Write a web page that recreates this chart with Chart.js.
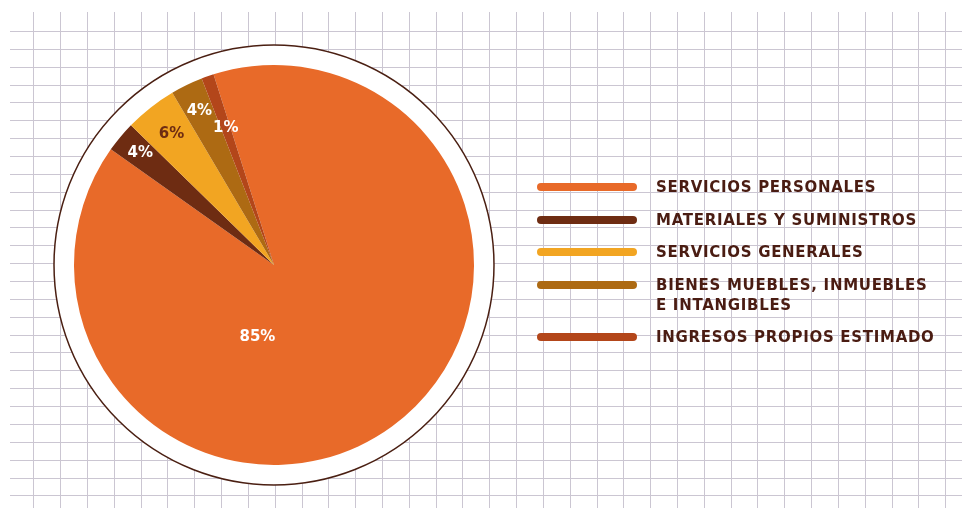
<!DOCTYPE html>
<html lang="es">
<head>
<meta charset="utf-8">
<title>Distribución del presupuesto</title>
<script src="https://cdn.jsdelivr.net/npm/chart.js@4/dist/chart.umd.min.js"></script>
<style>
    html, body { margin: 0; padding: 0; background: #fff; }
    #wrap { position: relative; width: 962px; height: 508px; }
    #legend {
        position: absolute; left: 537px; top: 177px;
        font-family: 'DejaVu Sans', sans-serif; font-weight: bold;
        font-size: 15px; line-height: 20px; color: #4a1c12; letter-spacing: 0.7px;
    }
    .item { display: flex; align-items: flex-start; margin-bottom: 12.5px; }
    .swatch { width: 100px; height: 8px; border-radius: 4px; margin-top: 6px; margin-right: 19px; flex: none; }
    .txt { white-space: nowrap; }
</style>
</head>
<body>
<div id="wrap">
    <canvas id="pieChart"></canvas>
    <div id="legend"></div>
</div>
<script>
var categories = [
    'SERVICIOS PERSONALES',
    'MATERIALES Y SUMINISTROS',
    'SERVICIOS GENERALES',
    ['BIENES MUEBLES, INMUEBLES', 'E INTANGIBLES'],
    'INGRESOS PROPIOS ESTIMADO'
];
// slice sizes as drawn in the picture
var shares = [89.7, 2.5, 4.2, 2.6, 1.0];
// percentages as printed on the slices
var shareLabels = ['85%', '4%', '6%', '4%', '1%'];

var sliceColors = ['#e86a29', '#6e2c12', '#f2a522', '#ad6a13', '#b3461a'];
var labelColors = ['#ffffff', '#ffffff', '#6e2c12', '#ffffff', '#ffffff'];
// where each label sits: fraction along the arc, fraction of radius
var labelPlace = [[0.652, 0.37], [0.5, 0.87], [0.5, 0.83], [0.5, 0.855], [0.5, 0.725]];

var gridPlugin = {
    id: 'gridPaper',
    beforeDraw: function(chart) {
        var c = chart.ctx;
        c.save();
        c.strokeStyle = '#cbc6d2';
        c.lineWidth = 1;
        c.beginPath();
        for (var i = 0; i <= 34; i++) {
            var x = Math.round(33.3 + i * 26.82) + 0.5;
            c.moveTo(x, 12); c.lineTo(x, 508);
        }
        for (var j = 0; j <= 26; j++) {
            var y = Math.round(31 + j * 17.86) + 0.5;
            c.moveTo(10, y); c.lineTo(962, y);
        }
        c.stroke();
        c.restore();
    }
};

var ringPlugin = {
    id: 'outerRing',
    beforeDatasetsDraw: function(chart) {
        var arc = chart.getDatasetMeta(0).data[0];
        if (!arc) return;
        var c = chart.ctx;
        c.save();
        c.fillStyle = '#ffffff';
        c.beginPath();
        c.arc(arc.x, arc.y, arc.outerRadius + 20, 0, Math.PI * 2);
        c.fill();
        c.strokeStyle = '#4a1f12';
        c.lineWidth = 1.5;
        c.stroke();
        c.restore();
    }
};

var labelPlugin = {
    id: 'sliceLabels',
    afterDatasetsDraw: function(chart) {
        var c = chart.ctx;
        c.save();
        c.font = "bold 15px 'DejaVu Sans', sans-serif";
        c.textAlign = 'center';
        c.textBaseline = 'middle';
        chart.getDatasetMeta(0).data.forEach(function(arc, i) {
            var p = arc.getProps(['x', 'y', 'startAngle', 'endAngle', 'outerRadius'], true);
            var a = p.startAngle + labelPlace[i][0] * (p.endAngle - p.startAngle);
            var r = labelPlace[i][1] * p.outerRadius;
            c.fillStyle = labelColors[i];
            c.fillText(shareLabels[i], p.x + Math.cos(a) * r, p.y + Math.sin(a) * r);
        });
        c.restore();
    }
};

var chart = new Chart(document.getElementById('pieChart').getContext('2d'), {
    type: 'pie',
    data: {
        labels: categories,
        datasets: [{
            data: shares,
            backgroundColor: sliceColors,
            borderWidth: 0
        }]
    },
    options: {
        responsive: true,
        maintainAspectRatio: false,
        animation: false,
        rotation: -17.6,
        layout: { padding: { left: 74, right: 488, top: 65, bottom: 43 } },
        plugins: {
            legend: { display: false },
            tooltip: { enabled: false }
        }
    },
    plugins: [gridPlugin, ringPlugin, labelPlugin]
});

// html legend built from the chart data
var legendBox = document.getElementById('legend');
chart.data.labels.forEach(function(label, i) {
    var item = document.createElement('div');
    item.className = 'item';
    var sw = document.createElement('div');
    sw.className = 'swatch';
    sw.style.background = chart.data.datasets[0].backgroundColor[i];
    var tx = document.createElement('div');
    tx.className = 'txt';
    tx.innerHTML = [].concat(label).join('<br>');
    item.appendChild(sw);
    item.appendChild(tx);
    legendBox.appendChild(item);
});
</script>
</body>
</html>
